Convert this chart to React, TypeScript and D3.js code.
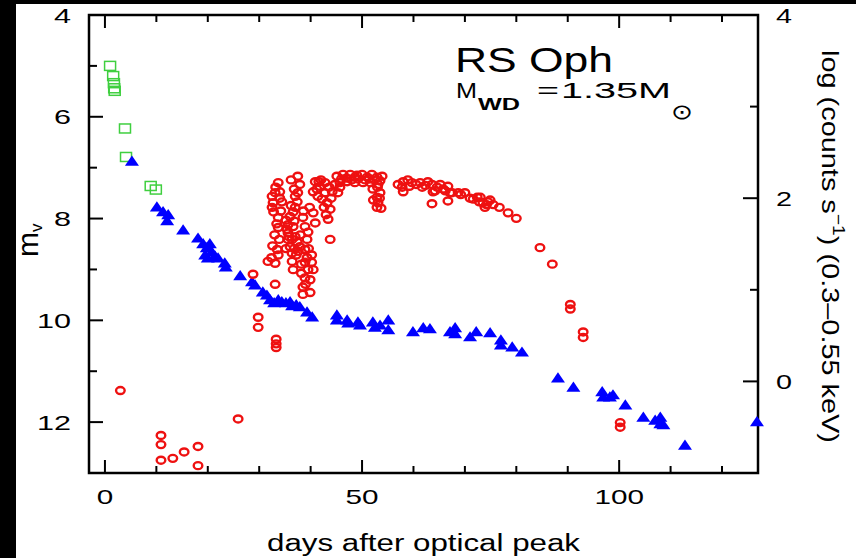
import React from 'react';
import * as d3 from 'd3';

// tick positions
const dayMajor = [0, 50, 100];
const dayMinor = [10, 20, 30, 40, 60, 70, 80, 90, 110, 120];
const magMajor = [6, 8, 10, 12];
const magMinor = [5, 7, 9, 11];
const magLabels = [4, 6, 8, 10, 12];
const logMajor = [0, 2];
const logMinor = [1, 3];
const logLabels = [0, 2, 4];

// early optical (green squares): [day, m_v]
const opticalEarly: [number, number][] = [
  [1.0, 5.0], [1.6, 5.2], [1.75, 5.34], [1.8, 5.44], [1.9, 5.49],
  [3.9, 6.23], [4.1, 6.79], [8.9, 7.36], [9.9, 7.43],
];

// optical (blue triangles): [day, m_v]
const opticalLate: [number, number][] = [
  [5.25, 6.88], [10.1, 7.78], [11.3, 7.87], [12.3, 7.93], [12.1, 8.05], [15.2, 8.23], [18.1, 8.39],
  [19.1, 8.5], [19.8, 8.58], [20.4, 8.5], [20.8, 8.66], [19.5, 8.72], [21.4, 8.74], [22.0, 8.78], [20.0, 8.78],
  [23.3, 8.88], [23.5, 8.96], [26.3, 9.13], [28.6, 9.25], [29.2, 9.31], [30.7, 9.45], [31.5, 9.51],
  [32.1, 9.6], [32.9, 9.66], [33.7, 9.6], [34.4, 9.64], [35.2, 9.66], [36.0, 9.64], [36.4, 9.72], [37.2, 9.7], [37.9, 9.74],
  [39.3, 9.84], [40.3, 9.94],
  [45.1, 9.9], [45.1, 10.0], [47.1, 10.0], [47.3, 10.06], [49.2, 10.04], [49.6, 10.1], [52.1, 10.04], [52.5, 10.14],
  [53.5, 10.1], [55.1, 10.0], [55.1, 10.19],
  [59.9, 10.23], [61.9, 10.15], [63.2, 10.17], [67.1, 10.23], [68.1, 10.15], [68.1, 10.27], [71.0, 10.33], [72.2, 10.23],
  [74.9, 10.25], [77.0, 10.39], [77.0, 10.49], [79.2, 10.53], [81.1, 10.63],
  [88.1, 11.14], [91.1, 11.32], [96.7, 11.41], [96.9, 11.51], [98.2, 11.51], [98.8, 11.47], [101.2, 11.67],
  [104.7, 11.91], [107.0, 11.97], [108.0, 11.91], [108.0, 12.04], [108.6, 12.06], [112.8, 12.46], [126.8, 12.0],
];

// supersoft X-ray (red circles): [day, log counts]
const xrayCounts: [number, number][] = [
  [3.0, -0.1], [10.9, -0.59], [10.9, -0.69], [10.9, -0.86], [13.2, -0.84], [15.4, -0.77], [18.1, -0.71], [18.1, -0.92],
  [25.9, -0.41], [29.8, 0.7], [29.8, 0.59], [28.8, 1.17], [33.3, 0.46], [33.3, 0.41], [33.3, 0.37],
  [31.7, 1.31], [33.1, 1.29], [33.7, 1.38], [33.5, 1.44], [33.9, 1.55], [33.7, 1.68], [33.7, 1.79], [32.5, 1.9],
  [32.7, 1.95], [34.4, 1.96], [32.5, 2.02], [33.1, 2.06], [34.0, 2.07], [33.7, 2.17], [33.1, 1.06],
  [32.8, 1.85], [33.4, 1.72], [33.0, 1.6], [32.6, 1.48], [34.2, 1.86], [34.0, 2.0], [33.2, 2.12], [32.4, 1.35],
  [37.5, 2.24], [37.9, 2.15], [37.5, 2.06], [37.4, 1.96], [37.0, 1.9], [36.0, 1.8], [35.6, 1.71], [35.6, 1.62],
  [36.4, 1.55], [36.0, 1.47], [36.4, 1.4], [36.6, 1.69], [37.0, 1.58], [37.4, 1.52], [38.5, 1.79], [38.9, 1.69],
  [39.5, 1.63], [40.5, 1.84], [40.9, 1.73], [39.3, 1.55], [38.9, 1.44], [39.3, 1.35], [38.9, 1.3], [39.5, 1.22],
  [36.4, 1.31], [36.6, 1.22], [40.5, 1.22], [38.9, 1.13], [39.9, 1.11], [38.5, 1.03], [39.9, 0.97], [38.5, 0.95],
  [35.2, 1.76], [35.4, 1.66], [36.8, 1.75], [35.6, 1.55], [37.6, 1.42], [35.2, 1.45], [37.2, 1.38], [37.9, 1.47],
  [36.2, 2.2], [36.8, 2.1], [37.0, 2.02], [36.2, 1.92], [36.6, 1.85], [35.8, 1.58], [36.8, 1.45], [38.0, 1.6],
  [38.2, 1.28], [39.6, 1.45], [40.2, 1.38], [38.2, 1.18], [39.0, 1.06], [40.2, 1.3], [39.8, 1.9], [38.6, 1.86],
  [40.9, 2.18], [41.8, 2.13], [40.5, 2.07], [42.8, 2.17], [42.8, 2.06], [42.2, 1.99], [44.2, 2.07], [44.7, 2.15],
  [45.3, 2.06], [43.2, 1.95], [43.8, 1.88], [43.4, 1.77], [43.8, 1.55], [45.7, 2.12], [41.4, 2.02],
  [41.2, 2.1], [42.0, 2.2], [43.6, 2.12], [44.0, 2.0], [42.6, 1.9], [43.0, 1.82], [41.6, 2.18],
  [45.1, 2.24], [46.3, 2.26], [47.7, 2.26], [48.6, 2.23], [50.0, 2.26], [51.0, 2.23], [51.9, 2.26], [52.9, 2.23],
  [53.9, 2.24], [45.7, 2.17], [47.1, 2.18], [48.6, 2.17], [50.2, 2.17], [51.6, 2.17], [53.1, 2.15], [52.1, 2.1],
  [53.5, 2.06], [52.9, 2.01], [53.1, 1.95], [52.9, 1.9], [53.7, 1.89],
  [46.0, 2.21], [47.0, 2.22], [48.0, 2.2], [49.2, 2.21], [50.6, 2.2], [51.4, 2.21], [52.4, 2.2], [53.5, 2.19],
  [49.0, 2.25], [52.2, 1.98], [53.4, 2.0], [53.0, 2.12],
  [57.0, 2.15], [58.0, 2.18], [58.9, 2.2], [59.7, 2.17], [58.0, 2.07], [61.3, 2.17], [62.3, 2.14], [61.7, 2.12],
  [63.6, 2.15], [63.8, 2.07], [63.6, 1.94], [64.6, 2.12], [65.8, 2.1], [66.7, 2.13], [67.1, 2.06], [66.7, 1.97],
  [67.5, 2.06], [68.7, 2.06], [70.0, 2.06], [71.6, 1.99], [72.4, 2.01], [73.0, 2.01], [73.5, 1.95], [73.9, 1.9],
  [74.5, 1.96], [74.9, 1.98], [76.7, 1.9], [78.4, 1.84], [80.0, 1.78], [84.6, 1.46], [87.0, 1.28],
  [57.8, 2.12], [59.2, 2.13], [60.5, 2.15], [62.8, 2.18], [64.2, 2.08], [65.2, 2.15], [66.2, 2.08], [69.2, 2.04],
  [71.0, 2.0], [72.8, 1.96], [74.2, 1.93], [75.5, 1.93],
  [90.5, 0.84], [90.5, 0.79], [93.0, 0.54], [93.0, 0.48], [100.2, -0.45], [100.2, -0.5],
];

const W = 856;
const H = 558;
const L = 89, R = 758, T = 15, B = 473;
const FONT = '"Liberation Sans", Arial, Helvetica, sans-serif';

export default function App() {
  const x = d3.scaleLinear().domain([-3.1, 127]).range([L, R]);
  const yMag = d3.scaleLinear().domain([4, 13]).range([T, B]);
  const yLog = d3.scaleLinear().domain([4, -1]).range([T, B]);

  const tri = 'M0,-6L7,4.2L-7,4.2Z';

  return (
    <svg width={W} height={H} style={{ position: 'absolute', left: 0, top: 0, background: '#fff' }}
      fontFamily={FONT}>
      <rect x={0} y={0} width={W} height={H} fill="#fff" />
      <rect x={0} y={0} width={16} height={H} fill="#000" />
      <rect x={0} y={0} width={W} height={4} fill="#000" />

      {/* ticks */}
      <g stroke="#000" strokeWidth={2}>
        {dayMajor.map(d => (
          <g key={'dM' + d}>
            <line x1={x(d)} x2={x(d)} y1={B} y2={B - 13} />
            <line x1={x(d)} x2={x(d)} y1={T} y2={T + 13} />
          </g>
        ))}
        {dayMinor.map(d => (
          <g key={'dm' + d}>
            <line x1={x(d)} x2={x(d)} y1={B} y2={B - 7} />
            <line x1={x(d)} x2={x(d)} y1={T} y2={T + 7} />
          </g>
        ))}
        {magMajor.map(m => <line key={'mM' + m} x1={L} x2={L + 14} y1={yMag(m)} y2={yMag(m)} />)}
        {magMinor.map(m => <line key={'mm' + m} x1={L} x2={L + 8} y1={yMag(m)} y2={yMag(m)} />)}
        {logMajor.map(v => <line key={'lM' + v} x1={R} x2={R - 15} y1={yLog(v)} y2={yLog(v)} />)}
        {logMinor.map(v => <line key={'lm' + v} x1={R} x2={R - 8} y1={yLog(v)} y2={yLog(v)} />)}
      </g>
      <rect x={L} y={T} width={R - L} height={B - T} fill="none" stroke="#000" strokeWidth={2.5} />

      {/* tick labels */}
      <g fontSize={21} fill="#000">
        {dayMajor.map(d => (
          <text key={'dl' + d} x={x(d)} y={B + 31} textAnchor="middle"
            textLength={String(d).length * 16.5} lengthAdjust="spacingAndGlyphs">{d}</text>
        ))}
        {magLabels.map(m => (
          <text key={'ml' + m} x={71} y={yMag(m) + 7.5} textAnchor="end"
            textLength={String(m).length * 17} lengthAdjust="spacingAndGlyphs">{m}</text>
        ))}
        {logLabels.map(v => (
          <text key={'ll' + v} x={776} y={yLog(v) + 7.5} textAnchor="start"
            textLength={String(v).length * 16} lengthAdjust="spacingAndGlyphs">{v}</text>
        ))}
      </g>

      {/* axis titles */}
      <text x={267} y={551} fontSize={23} textLength={313} lengthAdjust="spacingAndGlyphs">days after optical peak</text>
      <text transform="translate(38,257) rotate(-90)" fontSize={30}>
        m<tspan fontSize={17} dy={4}>v</tspan>
      </text>
      <text transform="translate(822,50) rotate(90)" fontSize={24} textLength={393} lengthAdjust="spacingAndGlyphs">
        log (counts s<tspan fontSize={16} dy={-11}>−1</tspan><tspan dy={11}>) (0.3–0.55 keV)</tspan>
      </text>

      {/* annotation */}
      <text x={455} y={72} fontSize={35} textLength={158} lengthAdjust="spacingAndGlyphs">RS Oph</text>
      <text x={456} y={98} fontSize={22} textLength={21} lengthAdjust="spacingAndGlyphs">M</text>
      <text x={478} y={110} fontSize={17} fontWeight="bold" textLength={42} lengthAdjust="spacingAndGlyphs">WD</text>
      <text x={537} y={98} fontSize={22} textLength={22} lengthAdjust="spacingAndGlyphs">=</text>
      <text x={561} y={98} fontSize={22} textLength={110} lengthAdjust="spacingAndGlyphs">1.35M</text>
      <text x={671} y={112} fontSize={21} fontFamily='"DejaVu Sans", sans-serif' dominantBaseline="central"
        textLength={22} lengthAdjust="spacingAndGlyphs">⊙</text>

      {/* data */}
      <g fill="none" stroke="#3fcf3f" strokeWidth={1.5}>
        {opticalEarly.map(([d, m], i) => (
          <rect key={'g' + i} x={x(d) - 5.5} y={yMag(m) - 4.5} width={11} height={9} />
        ))}
      </g>
      <g fill="#0000ff">
        {opticalLate.map(([d, m], i) => (
          <path key={'b' + i} d={tri} transform={`translate(${x(d)},${yMag(m)})`} />
        ))}
      </g>
      <g fill="none" stroke="#ee1111" strokeWidth={2.4}>
        {xrayCounts.map(([d, v], i) => (
          <ellipse key={'r' + i} cx={x(d)} cy={yLog(v)} rx={4.3} ry={3.5} />
        ))}
      </g>
    </svg>
  );
}
